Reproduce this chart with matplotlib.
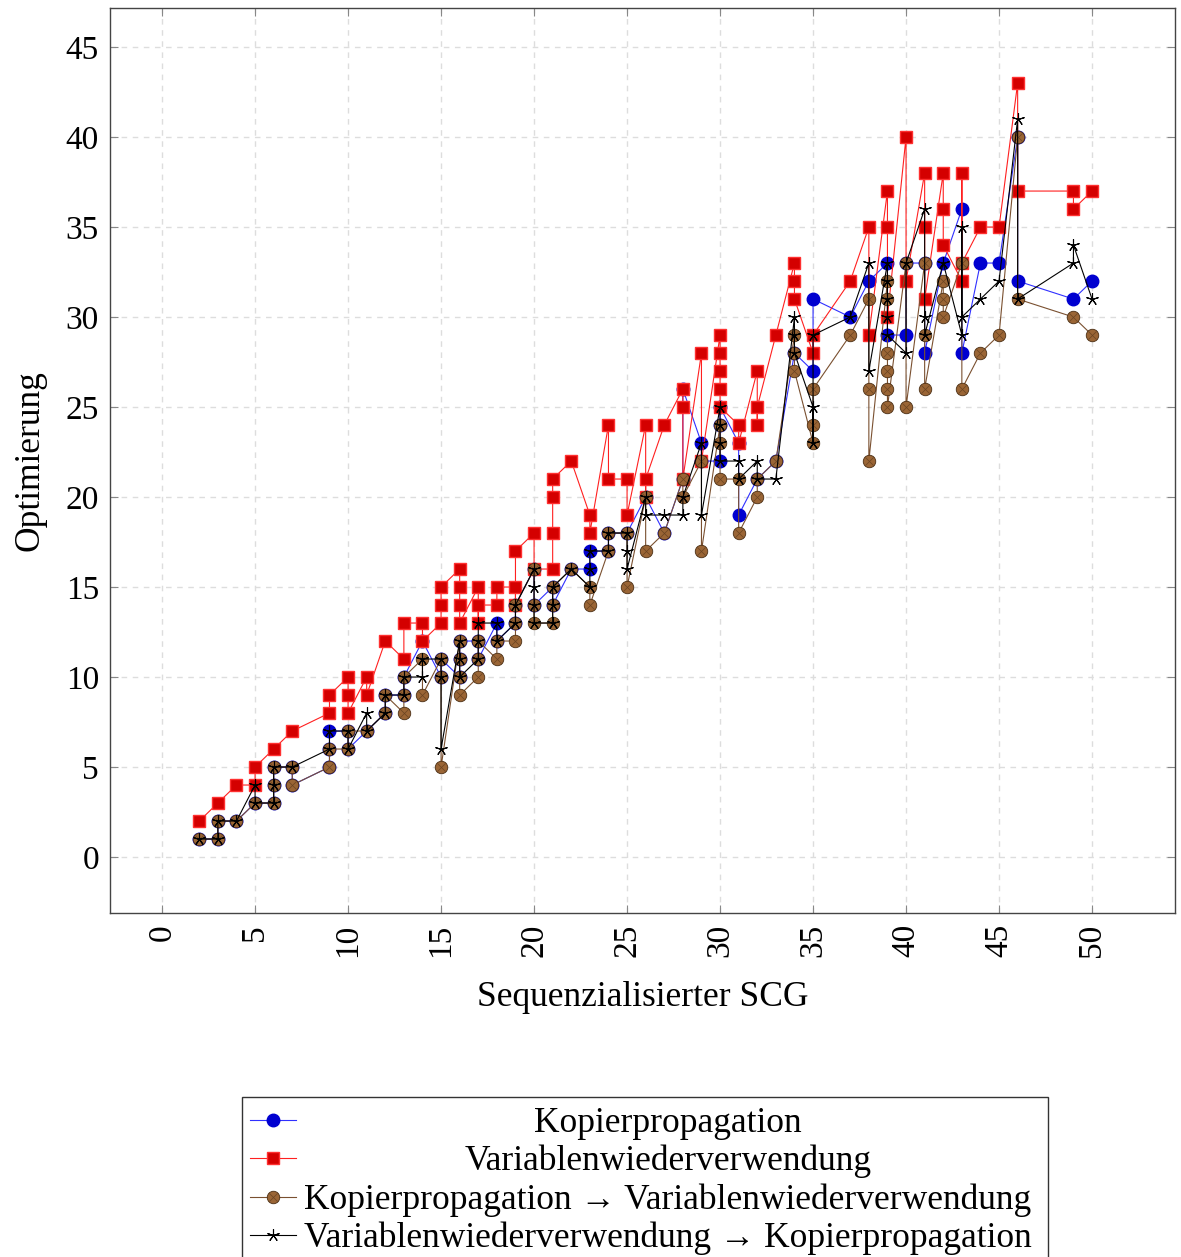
import matplotlib
matplotlib.use("Agg")
import matplotlib.pyplot as plt
from matplotlib.lines import Line2D
from matplotlib.patches import Rectangle

plt.rcParams['font.family'] = ['Liberation Serif', 'DejaVu Serif']

# Daten: x-Werte und die zugehoerigen y-Werte (mehrere Werte pro x moeglich)
kp_x = [2, 3, 4, 5, 6, 7, 9, 10, 11, 12, 13, 14, 15, 16, 17, 18, 19, 20, 21, 22, 23, 24, 25,
        26, 27, 28, 29, 30, 31, 32, 33, 34, 35, 37, 38, 39, 40, 41, 42, 43, 44, 45, 46, 49, 50]
kp_y = [[1], [1, 2], [2], [3], [3, 4, 5], [5, 4], [5, 6, 7], [7, 6], [7], [8, 9], [9, 10], [12],
        [10, 11], [10, 11, 12], [12, 11], [13, 12], [13, 14], [16, 14], [15, 14], [16], [16, 17],
        [17, 18], [18], [20], [18], [21, 26], [23, 22], [22, 24, 25], [23, 19], [21], [22], [28],
        [27, 31], [30], [32], [33, 29], [29, 33], [33, 28], [33], [36, 28], [33], [33], [40, 32],
        [31], [32]]

vw_x = [2, 3, 4, 5, 6, 7, 9, 10, 11, 12, 13, 14, 15, 16, 17, 18, 19, 20, 21, 22, 23, 24, 25,
        26, 27, 28, 29, 30, 31, 32, 33, 34, 35, 37, 38, 39, 40, 41, 42, 43, 44, 45, 46, 49, 50]
vw_y = [[2], [3], [4], [4, 5], [6], [7], [8, 9], [10, 9, 8], [10, 9], [12], [11, 13], [13, 12],
        [13, 14, 15], [16, 15, 14, 13], [15, 13, 14], [14, 15], [15, 14, 17], [18, 16],
        [16, 18, 20, 21], [22], [19, 18], [24, 21], [21, 19], [24, 20, 21], [24], [26, 25, 21],
        [28, 22], [29, 28, 27, 26, 25], [24, 23], [27, 24, 25], [29], [33, 32, 31], [28, 29],
        [32], [35, 29], [37, 35, 30], [40, 32], [38, 35, 31], [38, 36, 34], [32, 38, 33], [35],
        [35], [43, 37], [37, 36], [37]]

kpvw_x = [2, 3, 4, 5, 6, 7, 9, 10, 11, 12, 13, 14, 15, 16, 17, 18, 19, 20, 21, 22, 23, 24, 25,
          26, 27, 28, 29, 30, 31, 32, 33, 34, 35, 37, 38, 39, 40, 41, 42, 43, 44, 45, 46, 49, 50]
kpvw_y = [[1], [1, 2], [2], [3], [3, 4, 5], [5, 4], [5, 6], [6, 7], [7], [8, 9], [8, 9, 10],
          [11, 9], [11, 10, 5], [12, 11, 10, 9], [10, 11, 12], [11, 12], [12, 13, 14],
          [16, 14, 13], [13, 14, 15], [16], [15, 14], [17, 18], [18, 15], [20, 17], [18],
          [21, 20], [22, 17], [24, 23, 21], [21, 18], [20, 21], [22], [29, 28, 27], [23, 24, 26],
          [29], [31, 26, 22], [32, 31, 28, 27, 26, 25], [33, 25], [33, 29, 26], [32, 31, 30],
          [33, 26], [28], [29], [40, 31], [30], [29]]

vwkp_x = [2, 3, 4, 5, 6, 7, 9, 10, 11, 12, 13, 14, 15, 16, 17, 18, 19, 20, 21, 22, 23, 24, 25,
          26, 27, 28, 29, 30, 31, 32, 33, 34, 35, 37, 38, 39, 40, 41, 42, 43, 44, 45, 46, 49, 50]
vwkp_y = [[1], [1, 2], [2], [4, 3], [3, 4, 5], [5], [6, 7], [7, 6], [8, 7], [8, 9], [9, 10],
          [10, 11], [11, 10, 6], [12, 11, 10], [11, 12, 13], [13, 12], [13, 14], [16, 15, 14, 13],
          [13, 14, 15], [16], [15, 16, 17], [17, 18], [18, 17, 16], [20, 19], [19], [19, 20],
          [23, 19], [25, 24, 23, 22], [22, 21], [22, 21], [21], [30, 29, 28], [25, 23, 29], [30],
          [33, 27], [33, 32, 31, 30, 29], [28, 33], [36, 30, 29], [33], [29, 35, 30], [31], [32],
          [41, 31], [33, 34], [31]]

labels = ['Kopierpropagation', 'Variablenwiederverwendung',
          'Kopierpropagation \u2192 Variablenwiederverwendung',
          'Variablenwiederverwendung \u2192 Kopierpropagation']


def flatten(xs, ys):
    fx, fy = [], []
    for x, vals in zip(xs, ys):
        for v in vals:
            fx.append(x)
            fy.append(v)
    return fx, fy


blue = '#0000d0'
red = '#d40000'
brown = '#9a6535'
brown_dark = '#4a2e14'

fig = plt.figure(figsize=(11.81, 12.57), dpi=100)
ax = fig.add_axes([110 / 1181, 1 - 913 / 1257, 1065 / 1181, 905 / 1257])

lw = 0.8
ms = 9
x, y = flatten(kp_x, kp_y)
ax.plot(x, y, color='#3030ff', lw=lw, marker='o', ms=ms, mfc=blue, mec=blue, zorder=3)

x, y = flatten(vw_x, vw_y)
ax.plot(x, y, color='#ff2020', lw=lw, marker='s', ms=ms - 0.4, mfc=red, mec='#ff3030', zorder=4)

x, y = flatten(kpvw_x, kpvw_y)
ax.plot(x, y, color='#7a5030', lw=lw, marker='o', ms=ms, mfc=brown, mec=brown_dark,
        mew=0.6, zorder=5)
ax.plot(x, y, ls='none', marker='x', ms=5.5, mec='#6a4422', mew=0.5, zorder=5)

x, y = flatten(vwkp_x, vwkp_y)
ax.plot(x, y, color='black', lw=lw, marker=(5, 2, 0), ms=ms, mec='black', mew=0.8, zorder=6)

ax.set_xlim(-2.8, 54.46)
ax.set_ylim(-3.11, 47.17)
ax.set_xticks(range(0, 51, 5))
ax.set_yticks(range(0, 46, 5))
ax.tick_params(direction='in', length=6, width=0.8, color='#888888', top=True, right=True,
               labelsize=24, pad=8)
for lab in ax.get_xticklabels():
    lab.set_rotation(90)
ax.grid(True, ls=(0, (4, 4)), color='#dddddd', lw=1)
ax.set_axisbelow(True)
for s in ax.spines.values():
    s.set_color('#444444')
    s.set_linewidth(1)

ax.set_xlabel('Sequenzialisierter SCG', fontsize=25.5, labelpad=17)
ax.set_ylabel('Optimierung', fontsize=25.5, labelpad=14)

# Legende mit zentrierten Eintraegen
W, H = 1181, 1257
fig.add_artist(Rectangle((242 / W, -0.01), (1048 - 242) / W, 0.01 + 1 - 1097 / H,
                         transform=fig.transFigure, fill=False, ec='#333333', lw=1))
rows = [1120, 1158, 1197, 1235]
styles = [dict(color='#3030ff', marker='o', ms=ms, mfc=blue, mec=blue),
          dict(color='#ff2020', marker='s', ms=ms - 0.4, mfc=red, mec='#ff3030'),
          dict(color='#7a5030', marker='o', ms=ms, mfc=brown, mec=brown_dark, mew=0.6),
          dict(color='black', marker=(5, 2, 0), ms=ms, mec='black', mew=0.8)]
for ry, st, lab in zip(rows, styles, labels):
    yy = 1 - ry / H
    fig.add_artist(Line2D([250 / W, 296 / W], [yy, yy], lw=lw, transform=fig.transFigure,
                          markevery=[], **st))
    fig.add_artist(Line2D([273 / W], [yy], transform=fig.transFigure, ls='none',
                          **{k: v for k, v in st.items() if k != 'color'}))
    if st['marker'] == 'o' and st['mfc'] == brown:
        fig.add_artist(Line2D([273 / W], [yy], transform=fig.transFigure, ls='none',
                              marker='x', ms=5.5, mec='#6a4422', mew=0.5))
    fig.text(668 / W, yy - 3 / H, lab, ha='center', va='center', fontsize=25.5)

fig.savefig('out.png', dpi=100)
